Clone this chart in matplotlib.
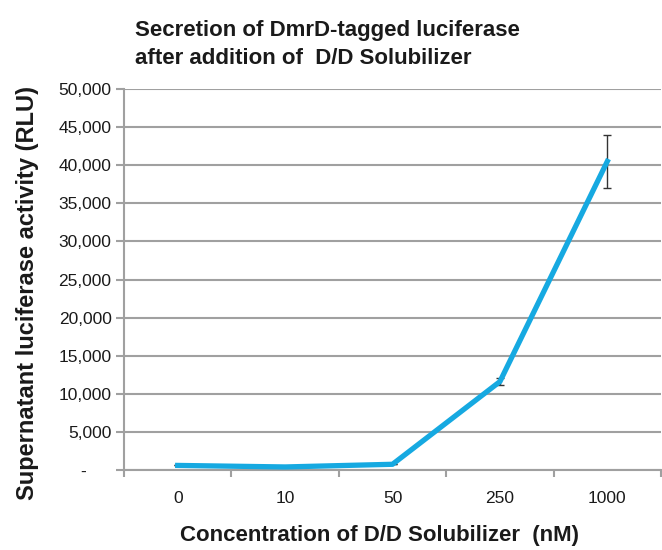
import numpy as np
import matplotlib
matplotlib.use('Agg')
import matplotlib.pyplot as plt

# concentrations (nM) and measured luciferase activity (RLU)
conc_labels = ['0', '10', '50', '250', '1000']
rlu = [600, 400, 750, 11600, 40500]
rlu_err = [0, 0, 0, 500, 3500]

yticks = [0, 5000, 10000, 15000, 20000, 25000, 30000, 35000, 40000, 45000, 50000]
ytick_labels = ['-     ', '5,000', '10,000', '15,000', '20,000', '25,000',
                '30,000', '35,000', '40,000', '45,000', '50,000']

title_lines = ['Secretion of DmrD-tagged luciferase',
               'after addition of  D/D Solubilizer']

plt.rcParams['font.family'] = ['Liberation Sans', 'DejaVu Sans']

fig = plt.figure(figsize=(6.62, 5.5), dpi=100)
ax = fig.add_axes([124/662, 80/550, 537/662, 381/550])

x = np.arange(len(conc_labels))
grid_col = '#a0a0a0'
line_col = '#16a9e1'
txt_col = '#1a1a1a'

ax.errorbar(x, rlu, yerr=rlu_err, color=line_col, lw=3.8, ecolor='#333333',
            elinewidth=1.0, capsize=3, capthick=1.0, zorder=3)

ax.set_xlim(-0.5, len(conc_labels) - 0.5)
ax.set_ylim(0, 50000)
ax.set_yticks(yticks)
ax.set_yticklabels(ytick_labels, fontsize=12.5, color=txt_col)
ax.set_xticks(x)
ax.set_xticklabels(conc_labels, fontsize=12.5, color=txt_col)
ax.tick_params(axis='x', length=0, pad=15)
ax.set_xticks(np.arange(-0.5, len(conc_labels)), minor=True)
ax.tick_params(axis='x', which='minor', length=5, color=grid_col, width=1.5)
ax.tick_params(axis='y', length=6, color=grid_col, width=1.5, pad=3)

ax.grid(axis='y', color=grid_col, lw=1.5, zorder=0)
ax.set_axisbelow(True)
for s in ['top', 'right']:
    ax.spines[s].set_visible(False)
for s in ['left', 'bottom']:
    ax.spines[s].set_color(grid_col)
    ax.spines[s].set_linewidth(1.5)

ax.set_ylabel('Supernatant luciferase activity (RLU)', fontsize=17,
              fontweight='bold', color=txt_col)
ax.yaxis.set_label_coords(-0.158, 0.465)
ax.set_xlabel('Concentration of D/D Solubilizer  (nM)', fontsize=16,
              fontweight='bold', color=txt_col)
ax.xaxis.set_label_coords(0.475, -0.145)

fig.text(135/662, 1 - 36/550, title_lines[0], fontsize=16, fontweight='bold',
         va='baseline', ha='left', color=txt_col)
fig.text(135/662, 1 - 64/550, title_lines[1], fontsize=16, fontweight='bold',
         va='baseline', ha='left', color=txt_col)

fig.savefig('out.png', dpi=100)
